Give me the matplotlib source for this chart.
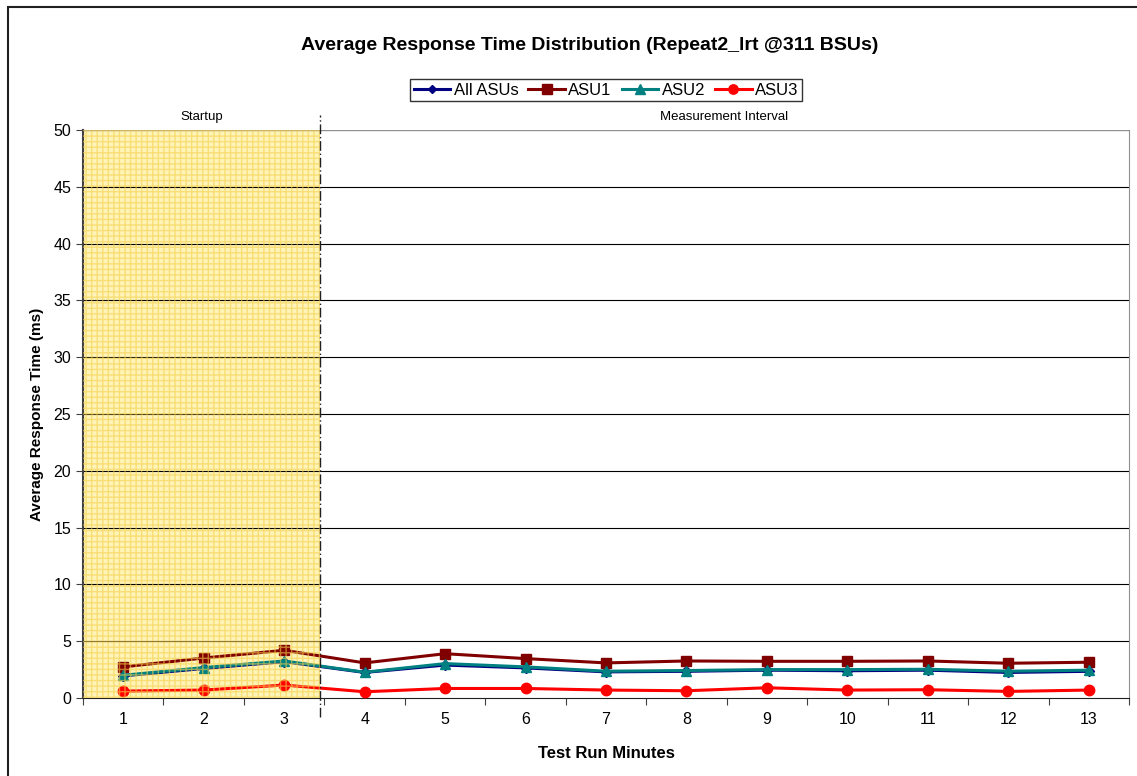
import numpy as np
import matplotlib.pyplot as plt
from matplotlib.patches import Rectangle

plt.rcParams['font.family'] = ['Liberation Sans', 'DejaVu Sans']

minutes = list(range(1, 14))
all_asus = [1.95, 2.6, 3.2, 2.25, 2.9, 2.65, 2.3, 2.35, 2.45, 2.4, 2.45, 2.25, 2.35]
asu1 = [2.74, 3.52, 4.2, 3.09, 3.9, 3.47, 3.09, 3.26, 3.23, 3.23, 3.26, 3.06, 3.15]
asu2 = [2.0, 2.68, 3.26, 2.27, 3.03, 2.74, 2.36, 2.42, 2.5, 2.5, 2.53, 2.36, 2.45]
asu3 = [0.61, 0.7, 1.14, 0.55, 0.84, 0.84, 0.7, 0.64, 0.9, 0.7, 0.73, 0.58, 0.7]
startup_end = 3.44

fig = plt.figure(figsize=(11.37, 7.76), dpi=100)
ax = fig.add_axes([0.073, 0.1005, 0.920, 0.732])

# outer chart border (left and top edges only visible)
fig.patches.append(Rectangle((0.007, -0.1), 1.2, 1.091, transform=fig.transFigure,
                             fill=False, edgecolor='#202020', linewidth=1.5))

ax.set_xlim(0.5, 13.5)
ax.set_ylim(0, 50)

# startup shading
ax.axvspan(0.5, startup_end, facecolor='#FFF4B8', edgecolor='none', zorder=0)
ax.axvspan(0.5, startup_end, facecolor='none', edgecolor='#F5CF4A', hatch='+++',
           linewidth=0, alpha=0.6, zorder=4)

for y in range(5, 50, 5):
    ax.axhline(y, color='black', linewidth=0.8, zorder=1)
ax.axhline(50, color='#909090', linewidth=1, zorder=1)

series = [
    (all_asus, 'All ASUs', '#000080', 'D', 5),
    (asu1, 'ASU1', '#800000', 's', 7.5),
    (asu2, 'ASU2', '#008080', '^', 7.5),
    (asu3, 'ASU3', '#FF0000', 'o', 7.5),
]
for vals, name, col, mk, ms in series:
    ax.plot(minutes, vals, color=col, marker=mk, markersize=ms, linewidth=2.2,
            label=name, zorder=3)

ax.plot([startup_end, startup_end], [-1.7, 51.3], color='#202020', linewidth=1,
        linestyle=(0, (7, 2, 1, 2)), clip_on=False, zorder=5)

ax.text((0.5 + startup_end) / 2, 50.6, 'Startup', ha='center', va='bottom', fontsize=9.5)
ax.text((startup_end + 13.5) / 2, 50.6, 'Measurement Interval', ha='center', va='bottom',
        fontsize=9.5)

ax.set_xticks(np.arange(0.5, 13.6, 1))
ax.set_xticklabels([])
ax.set_xticks(minutes, minor=True)
ax.set_xticklabels([str(m) for m in minutes], minor=True, fontsize=11.5)
ax.tick_params(axis='x', which='major', direction='out', length=5, color='#404040')
ax.tick_params(axis='x', which='minor', length=0, pad=10)
ax.set_yticks(range(0, 51, 5))
ax.tick_params(axis='y', direction='out', length=5, labelsize=11.5, color='#404040')

ax.spines['top'].set_visible(False)
ax.spines['left'].set_color('#404040')
ax.spines['left'].set_linewidth(1.5)
ax.spines['bottom'].set_color('#202020')
ax.spines['right'].set_color('#909090')

ax.set_xlabel('Test Run Minutes', fontsize=12, fontweight='bold', labelpad=14)
ax.set_ylabel('Average Response Time (ms)', fontsize=11, fontweight='bold', labelpad=7)
fig.text(0.519, 0.942, 'Average Response Time Distribution (Repeat2_lrt @311 BSUs)',
         ha='center', va='center', fontsize=14, fontweight='bold')

leg = fig.legend(loc='center', bbox_to_anchor=(0.533, 0.884), ncol=4, fontsize=12,
                 frameon=True, fancybox=False, edgecolor='black', handlelength=2.2,
                 handletextpad=0.2, columnspacing=0.6, borderpad=0.2, markerscale=0.9)
leg.get_frame().set_linewidth(1)

fig.savefig('out.png', dpi=100)
